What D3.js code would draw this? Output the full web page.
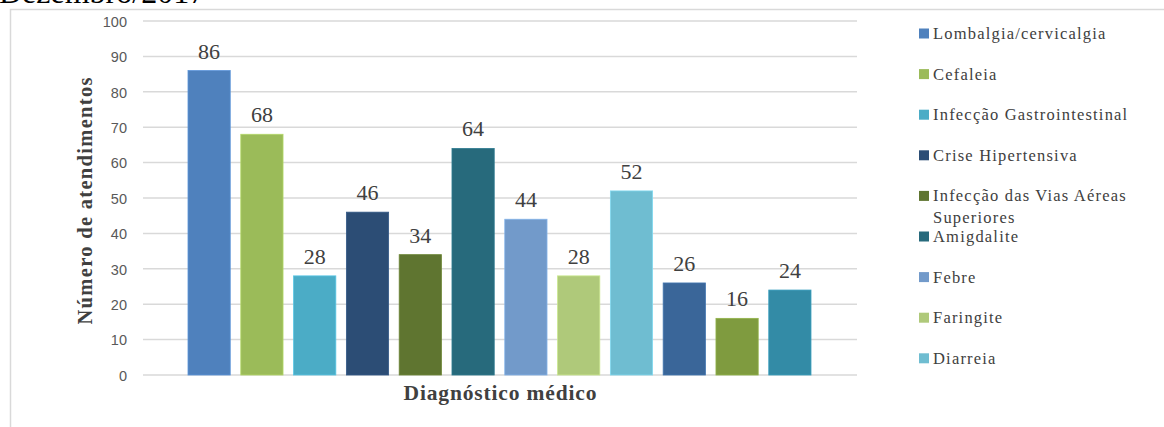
<!DOCTYPE html>
<html>
<head>
<meta charset="utf-8">
<script src="https://cdn.jsdelivr.net/npm/d3@7"></script>
<style>
  body { margin: 0; background: #fff; }
  svg { display: block; }
</style>
</head>
<body>
<svg id="chart" width="1164" height="427"></svg>
<script>
// values, one bar per diagnosis
const values = [86, 68, 28, 46, 34, 64, 44, 28, 52, 26, 16, 24];
const colors = ['#4f81bd', '#9bbb59', '#4bacc6', '#2c4d75', '#5f7530', '#276a7c',
                '#729aca', '#afc97a', '#6fbdd1', '#3a6699', '#7f9b3f', '#338ba6'];
// only the first nine legend entries are visible in the original
const legendLabels = ['Lombalgia/cervicalgia', 'Cefaleia', 'Infecção Gastrointestinal',
  'Crise Hipertensiva', 'Infecção das Vias Aéreas|Superiores', 'Amigdalite', 'Febre',
  'Faringite', 'Diarreia'];
const yTicks = [0, 10, 20, 30, 40, 50, 60, 70, 80, 90, 100];

const svg = d3.select('#chart');
const serif = '"Liberation Serif", "Times New Roman", serif';
const sans = '"Liberation Sans", Arial, sans-serif';

// chart frame (cut off at the right and bottom)
svg.append('path')
  .attr('d', 'M10.5,432 V9.5 H1170')
  .attr('fill', 'none')
  .attr('stroke', '#d9d9d9')
  .attr('stroke-width', 1.5);

// title remnant clipped at the top of the image
svg.append('text')
  .attr('x', -1).attr('y', 3)
  .attr('font-family', serif)
  .attr('font-size', 32)
  .attr('fill', '#000')
  .text('Dezembro/2017');

const y = d3.scaleLinear().domain([0, 100]).range([375, 21]);
const x = d3.scaleBand()
  .domain(d3.range(values.length))
  .range([188, 811])
  .paddingInner(0.2)
  .paddingOuter(0);

// gridlines
svg.append('g')
  .selectAll('line')
  .data(yTicks)
  .join('line')
  .attr('x1', 143).attr('x2', 857)
  .attr('y1', d => y(d)).attr('y2', d => y(d))
  .attr('stroke', '#d9d9d9')
  .attr('stroke-width', 1.5);

// y axis labels
const yAxis = svg.append('g')
  .attr('transform', 'translate(127,0)')
  .call(d3.axisLeft(y).tickValues(yTicks).tickSize(0).tickPadding(0));
yAxis.select('.domain').remove();
yAxis.attr('font-family', sans).attr('font-size', 14.5);
yAxis.selectAll('text')
  .attr('fill', '#595959')
  .attr('dy', '0.36em');

// bars
svg.append('g')
  .selectAll('rect')
  .data(values)
  .join('rect')
  .attr('x', (d, i) => x(i))
  .attr('y', d => y(d))
  .attr('width', x.bandwidth())
  .attr('height', d => y(0) - y(d))
  .attr('fill', (d, i) => colors[i])
  .attr('stroke', (d, i) => d3.color(colors[i]).brighter(0.4))
  .attr('stroke-width', 0.8);

// value labels
svg.append('g')
  .selectAll('text')
  .data(values)
  .join('text')
  .attr('x', (d, i) => x(i) + x.bandwidth() / 2)
  .attr('y', d => y(d) - 12)
  .attr('text-anchor', 'middle')
  .attr('font-family', serif)
  .attr('font-size', 22)
  .attr('fill', '#404040')
  .text(d => d);

// axis titles
svg.append('text')
  .attr('transform', 'translate(92,201) rotate(-90)')
  .attr('text-anchor', 'middle')
  .attr('font-family', serif)
  .attr('font-size', 20.5)
  .attr('font-weight', 'bold')
  .attr('fill', '#404040')
  .attr('textLength', 247)
  .attr('lengthAdjust', 'spacing')
  .text('Número de atendimentos');

svg.append('text')
  .attr('x', 500).attr('y', 400)
  .attr('text-anchor', 'middle')
  .attr('font-family', serif)
  .attr('font-size', 21.5)
  .attr('font-weight', 'bold')
  .attr('fill', '#404040')
  .attr('textLength', 193)
  .attr('lengthAdjust', 'spacing')
  .text('Diagnóstico médico');

// legend
const legend = svg.append('g')
  .selectAll('g')
  .data(legendLabels)
  .join('g')
  .attr('transform', (d, i) => `translate(919,${33.5 + i * 40.6})`);

legend.append('rect')
  .attr('x', 0).attr('y', -5)
  .attr('width', 10).attr('height', 10)
  .attr('fill', (d, i) => colors[i]);

legend.append('text')
  .attr('x', 14)
  .attr('y', 5.5)
  .attr('font-family', serif)
  .attr('font-size', 16.5)
  .attr('letter-spacing', 1.2)
  .attr('fill', '#404040')
  .selectAll('tspan')
  .data(d => d.split('|'))
  .join('tspan')
  .attr('x', 14)
  .attr('dy', (d, i) => i ? 22 : 0)
  .text(d => d);
</script>
</body>
</html>
